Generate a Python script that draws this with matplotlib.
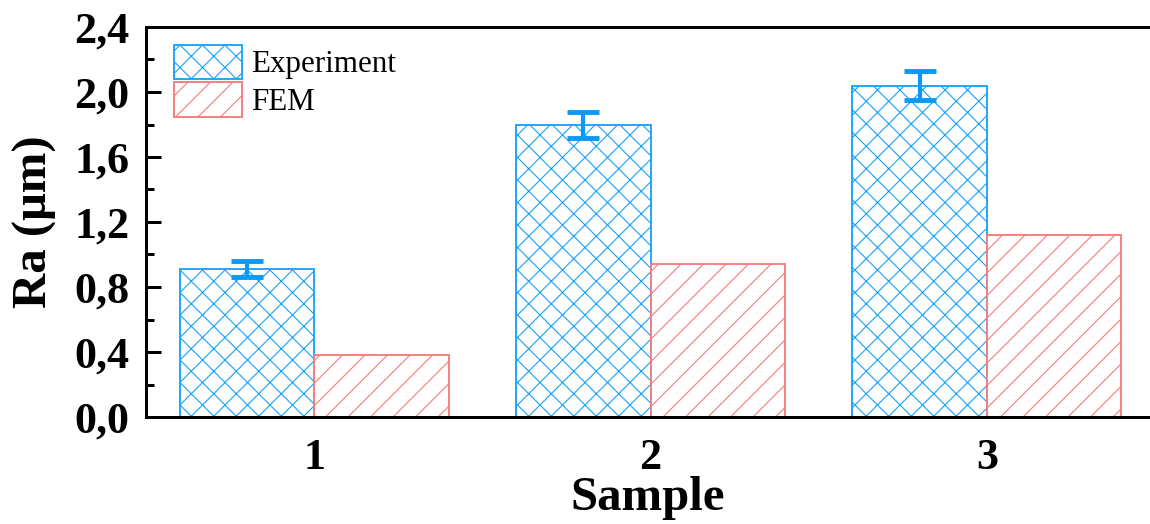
import matplotlib
matplotlib.use("Agg")
import matplotlib.pyplot as plt
from matplotlib.ticker import MultipleLocator, FuncFormatter
import numpy as np

categories = ["1", "2", "3"]
experiment = [0.91, 1.80, 2.04]
experiment_err = [0.05, 0.08, 0.09]
fem = [0.38, 0.94, 1.12]

DPI = 135
plt.rcParams['font.family'] = ['Liberation Serif', 'DejaVu Serif']
plt.rcParams['hatch.linewidth'] = 0.6

fig = plt.figure(figsize=(1150 / DPI, 524 / DPI), dpi=DPI)
ax = fig.add_axes([146 / 1150, 1 - 417 / 524, 1 - 146 / 1150, 390 / 524])

x = np.arange(1, len(categories) + 1)
w = 0.4
blue = '#1AA3FA'
red = '#F47C7C'
ax.bar(x - w / 2, experiment, w, facecolor='white', edgecolor=blue, hatch='xx',
       linewidth=1.0, label='Experiment', zorder=2)
ax.bar(x + w / 2, fem, w, facecolor='white', edgecolor=red, hatch='//',
       linewidth=1.0, label='FEM', zorder=2)
ax.errorbar(x - w / 2, experiment, yerr=experiment_err, fmt='none', ecolor='#0A9AF5',
            elinewidth=2.2, capsize=8.5, capthick=2.6, zorder=3)

ax.set_xlim(0.5, 3.485)
ax.set_ylim(0, 2.4)
ax.set_xticks(x)
ax.set_xticklabels(categories)
ax.yaxis.set_major_locator(MultipleLocator(0.4))
ax.yaxis.set_minor_locator(MultipleLocator(0.2))
ax.yaxis.set_major_formatter(FuncFormatter(lambda v, p: f"{v:.1f}".replace('.', ',')))

for s in ['left', 'bottom', 'top']:
    ax.spines[s].set_linewidth(1.6)
ax.spines['right'].set_visible(False)

ax.tick_params(axis='y', which='major', direction='in', length=8, width=1.6,
               labelsize=23.5, pad=9)
ax.tick_params(axis='y', which='minor', direction='in', length=4.5, width=1.6)
ax.tick_params(axis='x', which='major', direction='in', length=5, width=1.6,
               labelsize=23.5, pad=11)
for lab in ax.get_xticklabels() + ax.get_yticklabels():
    lab.set_fontweight('bold')

ax.set_xlabel('Sample', fontsize=26, fontweight='bold', labelpad=-1)
ax.set_ylabel('Ra (\u03bcm)', fontsize=26, fontweight='bold', labelpad=9)

ax.legend(loc='upper left', bbox_to_anchor=(0.028, 0.955), frameon=False,
          fontsize=16.5, handlelength=2.2, handleheight=1.35, labelspacing=0.1,
          handletextpad=0.3, borderpad=0, borderaxespad=0)

fig.savefig('out.png', dpi=DPI)
